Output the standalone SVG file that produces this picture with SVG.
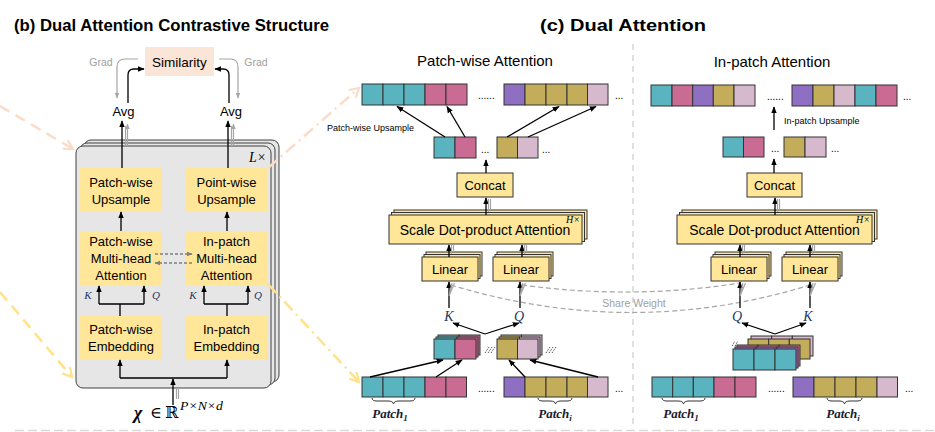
<svg xmlns="http://www.w3.org/2000/svg" width="935" height="432" viewBox="0 0 935 432">
<defs>
<marker id="ah" viewBox="0 0 10 10" refX="9" refY="5" markerWidth="7" markerHeight="7" markerUnits="userSpaceOnUse" orient="auto"><path d="M0,1 L10,5 L0,9 z" fill="#000"/></marker>
<marker id="ahg" viewBox="0 0 10 10" refX="9" refY="5" markerWidth="6" markerHeight="6" markerUnits="userSpaceOnUse" orient="auto"><path d="M0,1 L10,5 L0,9 z" fill="#a6a6a6"/></marker>
<marker id="ahd" viewBox="0 0 10 10" refX="9" refY="5" markerWidth="6" markerHeight="6" markerUnits="userSpaceOnUse" orient="auto"><path d="M0,1 L10,5 L0,9 z" fill="#7f7f7f"/></marker>
<marker id="chP" viewBox="0 0 12 12" refX="10" refY="6" markerWidth="12" markerHeight="12" markerUnits="userSpaceOnUse" orient="auto"><path d="M1,1 L10,6 L1,11" fill="none" stroke="#fbdcc8" stroke-width="2.2"/></marker>
<marker id="chY" viewBox="0 0 12 12" refX="10" refY="6" markerWidth="12" markerHeight="12" markerUnits="userSpaceOnUse" orient="auto"><path d="M1,1 L10,6 L1,11" fill="none" stroke="#ffe28a" stroke-width="2.2"/></marker>
</defs>
<style>
.t{fill:#5ab4bf}.p{fill:#c96b93}.v{fill:#8e6fc1}.o{fill:#c3ad5a}.l{fill:#d7b9ce}
.cells rect{stroke:#333;stroke-width:1}
.yb{fill:#ffe699}
.ybs{fill:#ffe699;stroke:#333;stroke-width:1}
.stk{fill:#e7e6e6;stroke:#404040;stroke-width:1}
.tx{font-family:'Liberation Sans',Arial,sans-serif;font-size:13px;fill:#000;text-anchor:middle}
.ttl{font-family:'Liberation Sans',Arial,sans-serif;font-size:16px;font-weight:bold;fill:#000}
.hd{font-family:'Liberation Sans',Arial,sans-serif;font-size:15px;fill:#000;text-anchor:middle}
.sm{font-family:'Liberation Sans',Arial,sans-serif;font-size:9px;fill:#000}
.gr{font-family:'Liberation Sans',Arial,sans-serif;font-size:10.5px;fill:#a0a0a0;text-anchor:middle}
.mi{font-family:'Liberation Serif','DejaVu Serif',serif;font-style:italic;fill:#1f3864;text-anchor:middle}
.pl{font-family:'Liberation Serif','DejaVu Serif',serif;font-style:italic;font-weight:bold;font-size:13px;fill:#1a1a2e;text-anchor:middle}
.fm{font-family:'Liberation Serif','DejaVu Serif',serif;fill:#000}
.dots{font-family:'Liberation Sans',Arial,sans-serif;font-size:10px;fill:#000}
.a{stroke:#000;stroke-width:1.3;fill:none}
.ae{stroke:#000;stroke-width:1.3;fill:none;marker-end:url(#ah)}
.ge{stroke:#a6a6a6;stroke-width:1.2;fill:none}
.br{stroke:#333;stroke-width:1;fill:none}
</style>

<rect width="935" height="432" fill="#fff"/>

<!-- titles -->
<text class="ttl" x="14" y="31" textLength="315" lengthAdjust="spacingAndGlyphs">(b) Dual Attention Contrastive Structure</text>
<text class="ttl" x="540" y="31" textLength="166" lengthAdjust="spacingAndGlyphs">(c) Dual Attention</text>

<!-- dividers -->
<g id="dividers" stroke="#d9d9d9" stroke-width="1.6" fill="none">
<line x1="633" y1="44" x2="633" y2="425" stroke-dasharray="6 5"/>
<line x1="15" y1="430.5" x2="935" y2="430.5" stroke-dasharray="9 4"/>
</g>

<!-- ===== left panel ===== -->
<g id="similarity">
<rect x="145" y="47" width="69" height="29" fill="#fbe5d6"/>
<text class="tx" x="179.5" y="67" style="font-size:13.5px">Similarity</text>
</g>
<g id="grad-left"><text class="gr" x="101" y="66">Grad</text></g>
<g id="grad-right"><text class="gr" x="256" y="66">Grad</text></g>
<g id="avg-left"><text class="tx" x="123.5" y="116">Avg</text></g>
<g id="avg-right"><text class="tx" x="231" y="116">Avg</text></g>

<g id="stack">
<rect class="stk" x="84" y="140" width="195" height="242" rx="7"/>
<rect class="stk" x="80" y="143" width="195" height="242" rx="7"/>
<rect class="stk" x="76" y="146" width="195" height="242" rx="7"/>
<text x="249" y="162" style="font-family:'Liberation Serif',serif;font-style:italic;font-size:14px">L×</text>
</g>

<g id="pw-upsample">
<rect class="yb" x="80" y="168" width="82" height="43"/>
<text class="tx" x="121" y="187">Patch-wise</text>
<text class="tx" x="121" y="204">Upsample</text>
</g>
<g id="point-upsample">
<rect class="yb" x="186" y="168" width="81" height="43"/>
<text class="tx" x="226.5" y="187">Point-wise</text>
<text class="tx" x="226.5" y="204">Upsample</text>
</g>
<g id="pw-attention">
<rect class="yb" x="80" y="231" width="82" height="54"/>
<text class="tx" x="121" y="246">Patch-wise</text>
<text class="tx" x="121" y="263">Multi-head</text>
<text class="tx" x="121" y="280">Attention</text>
</g>
<g id="ip-attention">
<rect class="yb" x="186" y="231" width="81" height="54"/>
<text class="tx" x="226.5" y="246">In-patch</text>
<text class="tx" x="226.5" y="263">Multi-head</text>
<text class="tx" x="226.5" y="280">Attention</text>
</g>
<g id="pw-embedding">
<rect class="yb" x="80" y="316" width="82" height="43"/>
<text class="tx" x="121" y="334">Patch-wise</text>
<text class="tx" x="121" y="351">Embedding</text>
</g>
<g id="ip-embedding">
<rect class="yb" x="185" y="316" width="83" height="43"/>
<text class="tx" x="226.5" y="334">In-patch</text>
<text class="tx" x="226.5" y="351">Embedding</text>
</g>
<g id="left-kq">
<text class="mi" x="88" y="299" style="font-size:11px">K</text>
<text class="mi" x="156" y="299" style="font-size:11px">Q</text>
<text class="mi" x="193" y="299" style="font-size:11px">K</text>
<text class="mi" x="258" y="299" style="font-size:11px">Q</text>
</g>
<g id="input">
<text class="fm" x="134" y="419" style="font-size:18px;font-style:italic;font-weight:bold">χ</text>
<text class="fm" x="150" y="418" style="font-size:16px">∈</text>
<text class="fm" x="165" y="418" style="font-family:'DejaVu Serif',serif;font-size:16px">ℝ</text>
<text class="fm" x="180" y="410" style="font-size:13px;font-style:italic" textLength="43" lengthAdjust="spacingAndGlyphs">P×N×d</text>
</g>

<!-- ===== middle panel ===== -->
<text class="hd" x="485" y="66">Patch-wise Attention</text>
<text class="hd" x="772" y="67">In-patch Attention</text>

<g id="m-top-row" class="cells">
<rect class="t" x="362" y="84" width="21" height="21"/><rect class="t" x="383" y="84" width="21" height="21"/><rect class="t" x="404" y="84" width="21" height="21"/><rect class="p" x="425" y="84" width="21" height="21"/><rect class="p" x="446" y="84" width="21" height="21"/>
<text class="dots" x="478" y="99">......</text>
<rect class="v" x="504" y="84" width="21" height="21"/><rect class="o" x="525" y="84" width="21" height="21"/><rect class="o" x="546" y="84" width="21" height="21"/><rect class="o" x="567" y="84" width="20.5" height="21"/><rect class="l" x="587.5" y="84" width="20.5" height="21"/>
<text class="dots" x="615" y="99">...</text>
</g>
<g id="m-pw-label"><text class="sm" x="327" y="131">Patch-wise Upsample</text></g>
<g id="m-mid-row" class="cells">
<rect class="t" x="434" y="137" width="21" height="21"/><rect class="p" x="455" y="137" width="21" height="21"/>
<text class="dots" x="481" y="153">...</text>
<rect class="o" x="497" y="137" width="20.5" height="21"/><rect class="l" x="517.5" y="137" width="20.5" height="21"/>
<text class="dots" x="542" y="153">...</text>
</g>
<g id="m-concat">
<rect class="ybs" x="457" y="173" width="56" height="24"/>
<text class="tx" x="485" y="190">Concat</text>
</g>
<g id="m-sdpa">
<rect class="ybs" x="394" y="210" width="193" height="29"/>
<rect class="ybs" x="391.5" y="212.5" width="193" height="29"/>
<rect class="ybs" x="389" y="215" width="193" height="29"/>
<text class="tx" x="485" y="234.5" style="font-size:14px">Scale Dot-product Attention</text>
<text x="566" y="223" style="font-family:'Liberation Serif',serif;font-style:italic;font-size:10px">H×</text>
</g>
<g id="m-linear-k">
<rect class="ybs" x="426" y="252" width="56" height="24"/>
<rect class="ybs" x="424" y="254.5" width="56" height="24"/>
<rect class="ybs" x="422" y="257" width="56" height="24"/>
<text class="tx" x="450" y="274">Linear</text>
</g>
<g id="m-linear-q">
<rect class="ybs" x="497" y="252" width="56" height="24"/>
<rect class="ybs" x="495" y="254.5" width="56" height="24"/>
<rect class="ybs" x="493" y="257" width="56" height="24"/>
<text class="tx" x="521" y="274">Linear</text>
</g>
<g id="m-kq">
<text class="mi" x="449" y="321" style="font-size:14px">K</text>
<text class="mi" x="519" y="321" style="font-size:14px">Q</text>
</g>
<g id="m-stack" class="cells">
<rect class="t" x="438" y="335" width="21" height="20"/><rect class="p" x="459" y="335" width="21" height="20"/>
<rect class="t" x="436" y="337" width="21" height="20"/><rect class="p" x="457" y="337" width="21" height="20"/>
<rect class="t" x="434" y="339" width="21" height="20"/><rect class="p" x="455" y="339" width="21" height="20"/>
<rect class="o" x="501" y="335" width="20.5" height="20"/><rect class="l" x="521.5" y="335" width="20.5" height="20"/>
<rect class="o" x="499" y="337" width="20.5" height="20"/><rect class="l" x="519.5" y="337" width="20.5" height="20"/>
<rect class="o" x="497" y="339" width="20.5" height="20"/><rect class="l" x="517.5" y="339" width="20.5" height="20"/>
<g stroke="#333" stroke-width="1" stroke-dasharray="1 1">
<line x1="485" y1="353" x2="489" y2="347"/><line x1="488" y1="353" x2="492" y2="347"/><line x1="491" y1="353" x2="495" y2="347"/>
<line x1="546" y1="353" x2="550" y2="347"/><line x1="549" y1="353" x2="553" y2="347"/><line x1="552" y1="353" x2="556" y2="347"/>
</g>
</g>
<g id="m-bottom-row" class="cells">
<rect class="t" x="362" y="377" width="21" height="20"/><rect class="t" x="383" y="377" width="21" height="20"/><rect class="t" x="404" y="377" width="21" height="20"/><rect class="p" x="425" y="377" width="21" height="20"/><rect class="p" x="446" y="377" width="20.5" height="20"/>
<text class="dots" x="478" y="392">......</text>
<rect class="v" x="504" y="377" width="21" height="20"/><rect class="o" x="525" y="377" width="21" height="20"/><rect class="o" x="546" y="377" width="21" height="20"/><rect class="o" x="567" y="377" width="20.5" height="20"/><rect class="l" x="587.5" y="377" width="20.5" height="20"/>
<text class="dots" x="615" y="392">...</text>
</g>
<g id="m-patch1">
<path class="br" d="M372,398 Q372,401 377,401 L388,401 Q393,401 393.5,404 Q394,401 399,401 L410,401 Q415,401 415,398"/>
<text class="pl" x="390" y="418">Patch<tspan font-size="9" dy="3">1</tspan></text>
</g>
<g id="m-patchi">
<path class="br" d="M538,398 Q538,401 543,401 L550,401 Q555,401 555.5,404 Q556,401 561,401 L567,401 Q572,401 572,398"/>
<text class="pl" x="555" y="418">Patch<tspan font-size="9" dy="3">i</tspan></text>
</g>

<!-- ===== right panel ===== -->
<g id="r-top-row" class="cells">
<rect class="t" x="651" y="85" width="21" height="21"/><rect class="p" x="672" y="85" width="20.7" height="21"/><rect class="v" x="692.7" y="85" width="20.6" height="21"/><rect class="o" x="713.3" y="85" width="20.7" height="21"/><rect class="l" x="734" y="85" width="21" height="21"/>
<text class="dots" x="767" y="100">......</text>
<rect class="v" x="792" y="85" width="21" height="21"/><rect class="o" x="813" y="85" width="21" height="21"/><rect class="l" x="834" y="85" width="21" height="21"/><rect class="t" x="855" y="85" width="21" height="21"/><rect class="p" x="876" y="85" width="21" height="21"/>
<text class="dots" x="903" y="100">...</text>
</g>
<g id="r-ip-label"><text class="sm" x="784" y="124">In-patch Upsample</text></g>
<g id="r-mid-row" class="cells">
<rect class="t" x="723" y="137" width="20.5" height="20"/><rect class="p" x="743.5" y="137" width="20.5" height="20"/>
<text class="dots" x="771" y="152">...</text>
<rect class="o" x="784" y="137" width="21" height="20"/><rect class="l" x="805" y="137" width="21" height="20"/>
<text class="dots" x="831" y="152">...</text>
</g>
<g id="r-concat">
<rect class="ybs" x="747" y="173" width="55" height="24"/>
<text class="tx" x="774.5" y="190">Concat</text>
</g>
<g id="r-sdpa">
<rect class="ybs" x="682" y="210" width="195" height="29"/>
<rect class="ybs" x="679.5" y="212.5" width="195" height="29"/>
<rect class="ybs" x="677" y="215" width="195" height="29"/>
<text class="tx" x="774.5" y="234.5" style="font-size:14px">Scale Dot-product Attention</text>
<text x="856" y="223" style="font-family:'Liberation Serif',serif;font-style:italic;font-size:10px">H×</text>
</g>
<g id="r-linear-q">
<rect class="ybs" x="715" y="252" width="56" height="24"/>
<rect class="ybs" x="713" y="254.5" width="56" height="24"/>
<rect class="ybs" x="711" y="257" width="56" height="24"/>
<text class="tx" x="739" y="274">Linear</text>
</g>
<g id="r-linear-k">
<rect class="ybs" x="786" y="252" width="56" height="24"/>
<rect class="ybs" x="784" y="254.5" width="56" height="24"/>
<rect class="ybs" x="782" y="257" width="56" height="24"/>
<text class="tx" x="810" y="274">Linear</text>
</g>
<g id="r-kq">
<text class="mi" x="737" y="321" style="font-size:14px">Q</text>
<text class="mi" x="808" y="321" style="font-size:14px">K</text>
</g>
<g id="r-stack" class="cells">
<rect class="l" x="751" y="336" width="20.7" height="20"/><rect class="l" x="771.7" y="336" width="20.6" height="20"/><rect class="l" x="792.3" y="336" width="20.7" height="20"/>
<rect class="o" x="748" y="339" width="20.7" height="20"/><rect class="o" x="768.7" y="339" width="20.6" height="20"/><rect class="o" x="789.3" y="339" width="20.7" height="20"/>
<rect class="p" x="737" y="345" width="21" height="21"/><rect class="p" x="758" y="345" width="21" height="21"/><rect class="p" x="779" y="345" width="21" height="21"/>
<rect class="v" x="735" y="347" width="21" height="21"/><rect class="v" x="756" y="347" width="21" height="21"/><rect class="v" x="777" y="347" width="21" height="21"/>
<rect class="t" x="733" y="349" width="21" height="21"/><rect class="t" x="754" y="349" width="21" height="21"/><rect class="t" x="775" y="349" width="21" height="21"/>
<g stroke="#333" stroke-width="1" stroke-dasharray="1 1">
<line x1="732" y1="346" x2="735" y2="341"/><line x1="735" y1="346" x2="738" y2="341"/>
</g>
</g>
<g id="r-bottom-row" class="cells">
<rect class="t" x="652" y="377" width="20.7" height="20"/><rect class="t" x="672.7" y="377" width="20.6" height="20"/><rect class="t" x="693.3" y="377" width="20.7" height="20"/><rect class="p" x="714" y="377" width="21" height="20"/><rect class="p" x="735" y="377" width="21" height="20"/>
<text class="dots" x="768" y="392">......</text>
<rect class="v" x="793" y="377" width="21" height="20"/><rect class="o" x="814" y="377" width="21" height="20"/><rect class="o" x="835" y="377" width="21" height="20"/><rect class="o" x="856" y="377" width="21" height="20"/><rect class="l" x="877" y="377" width="20.5" height="20"/>
<text class="dots" x="905" y="392">...</text>
</g>
<g id="r-patch1">
<path class="br" d="M662,398 Q662,401 667,401 L678,401 Q683,401 683.5,404 Q684,401 689,401 L700,401 Q705,401 705,398"/>
<text class="pl" x="681" y="418">Patch<tspan font-size="9" dy="3">1</tspan></text>
</g>
<g id="r-patchi">
<path class="br" d="M827,398 Q827,401 832,401 L839,401 Q844,401 844.5,404 Q845,401 850,401 L857,401 Q862,401 862,398"/>
<text class="pl" x="843" y="418">Patch<tspan font-size="9" dy="3">i</tspan></text>
</g>

<!-- ===== connectors ===== -->
<g id="connectors">
<!-- left panel -->
<path class="ge" d="M138,59 L125,59 Q117,59 117,67 L117,98" marker-end="url(#ahg)"/>
<path class="ge" d="M219,59 L230,59 Q238,59 238,67 L238,98" marker-end="url(#ahg)"/>
<path class="ae" d="M128,103 L128,75 Q128,69 134,69 L144,69"/>
<path class="ae" d="M229,103 L229,75 Q229,69 223,69 L215,69"/>
<path class="ae" d="M122,168 V121"/>
<path class="ge" d="M125.5,146 V126"/>
<path class="ge" d="M127.5,146 V124" marker-end="url(#ahg)"/>
<path class="ae" d="M228,168 V121"/>
<path class="ge" d="M231.5,146 V126"/>
<path class="ge" d="M233.5,146 V124" marker-end="url(#ahg)"/>
<path class="ae" d="M121,231 V212"/>
<path class="ae" d="M227,231 V212"/>
<path d="M155,254 H192" stroke="#7f7f7f" stroke-width="1.3" stroke-dasharray="3 2" fill="none" marker-end="url(#ahd)"/>
<path d="M192,263 H155" stroke="#7f7f7f" stroke-width="1.3" stroke-dasharray="3 2" fill="none" marker-end="url(#ahd)"/>
<path class="a" d="M120,316 V304 M99,304 H144 M227,316 V304 M204,304 H248"/>
<path class="ae" d="M99,304 V286"/>
<path class="ae" d="M144,304 V286"/>
<path class="ae" d="M204,304 V286"/>
<path class="ae" d="M248,304 V286"/>
<path class="a" d="M120,378 H227"/>
<path class="ae" d="M120,378 V360"/>
<path class="ae" d="M227,378 V360"/>
<path class="ae" d="M173,405 V379"/>
<path class="ge" d="M176.5,399 V388 M178.5,399 V388"/>

<!-- dashed links -->
<path d="M0,106 L73,149" stroke="#fbdcc8" stroke-width="2.5" stroke-dasharray="11 7" fill="none" marker-end="url(#chP)"/>
<path d="M0,292 L72,377" stroke="#ffe28a" stroke-width="2.5" stroke-dasharray="11 7" fill="none" marker-end="url(#chY)"/>
<path d="M268,168 L359,88" stroke="#fbdcc8" stroke-width="2.5" stroke-dasharray="12 5 2 5" fill="none" marker-end="url(#chP)"/>
<path d="M268,284 L359,382" stroke="#ffe28a" stroke-width="2.5" stroke-dasharray="12 5 2 5" fill="none" marker-end="url(#chY)"/>

<!-- middle panel -->
<path class="ae" d="M445,137 L397,106.5"/>
<path class="ae" d="M465,137 L447,106.5"/>
<path class="ae" d="M507,137 L559,106.5"/>
<path class="ae" d="M528,137 L596,106.5"/>
<path class="ae" d="M486,173 V160"/>
<path class="ae" d="M486,215 V198"/>
<path class="ge" d="M488.5,212 V199 M490.5,210 V199" stroke="#555"/>
<path class="ae" d="M449,257 V245"/>
<path class="ge" d="M451.5,254 V245 M453.5,252 V245" stroke="#555"/>
<path class="ae" d="M522,257 V245"/>
<path class="ge" d="M524.5,254 V245 M526.5,252 V245" stroke="#555"/>
<path class="ae" d="M449,308 V282"/>
<path class="ge" d="M449,296 L452,283 M449,296 L454.5,283" stroke="#555"/>
<path class="ae" d="M520,308 V282"/>
<path class="ge" d="M520,296 L523,283 M520,296 L525.5,283" stroke="#555"/>
<path class="ae" d="M485,334 L453,323"/>
<path class="ae" d="M485,334 L519,323"/>
<path class="ae" d="M370,377 L443,360"/>
<path class="ae" d="M436,377 L462,360"/>
<path class="ae" d="M525,377 L509,360"/>
<path class="ae" d="M598,377 L530,360"/>

<!-- share weight -->
<path d="M522,285 Q632,300 740,283" stroke="#a6a6a6" stroke-width="1.2" stroke-dasharray="5 3" fill="none"/>
<path d="M451,285 Q632,340 810,285" stroke="#a6a6a6" stroke-width="1.2" stroke-dasharray="5 3" fill="none"/>
<text class="gr" x="634" y="307">Share Weight</text>

<!-- right panel -->
<path class="ae" d="M774,130 V107"/>
<path class="ae" d="M774,173 V159"/>
<path class="ae" d="M775,215 V198"/>
<path class="ge" d="M777.5,212 V199 M779.5,210 V199" stroke="#555"/>
<path class="ae" d="M740,257 V245"/>
<path class="ge" d="M742.5,254 V245 M744.5,252 V245" stroke="#555"/>
<path class="ae" d="M810,257 V245"/>
<path class="ge" d="M812.5,254 V245 M814.5,252 V245" stroke="#555"/>
<path class="ae" d="M740,308 V282"/>
<path class="ge" d="M740,296 L743,283 M740,296 L745.5,283" stroke="#555"/>
<path class="ae" d="M810,308 V282"/>
<path class="ge" d="M810,296 L813,283 M810,296 L815.5,283" stroke="#555"/>
<path class="ae" d="M775,334 L742,323"/>
<path class="ae" d="M775,334 L806,323"/>
</g>
</svg>
